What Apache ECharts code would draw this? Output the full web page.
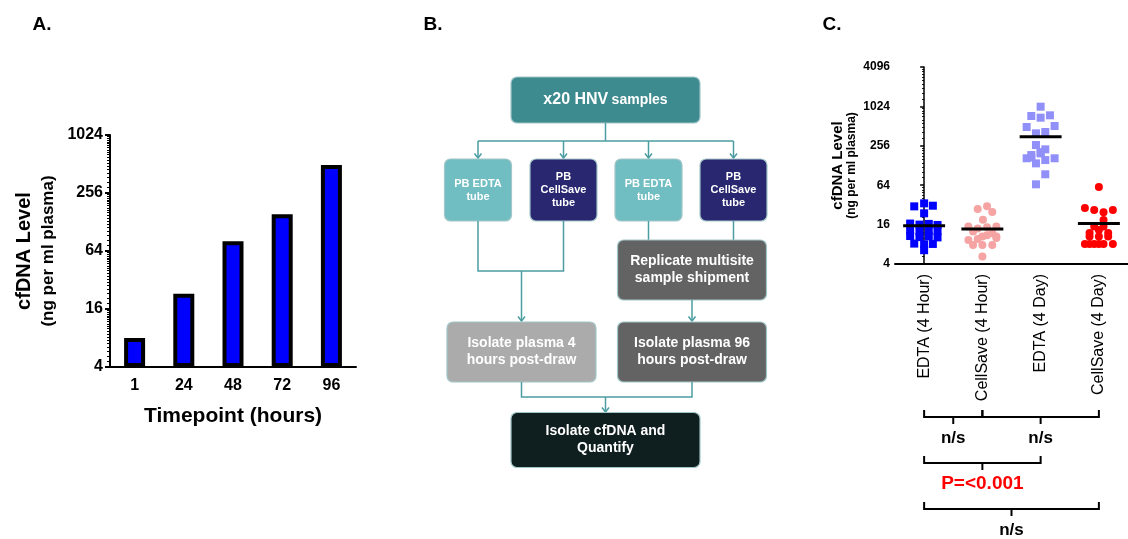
<!DOCTYPE html>
<html>
<head>
<meta charset="utf-8">
<script src="https://cdn.jsdelivr.net/npm/echarts@6/dist/echarts.min.js"></script>
<style>
  html, body { margin: 0; padding: 0; background: #fff; }
  #main { width: 1128px; height: 539px; }
</style>
</head>
<body>
<div id="main"></div>
<script>
// ---- Panel A: cfDNA level by timepoint ----
const timepoints = ['1', '24', '48', '72', '96'];
const meanLevel = [8, 23, 81, 154, 500];
const ticksA = [4, 16, 64, 256, 1024];

// ---- Panel C: per-sample cfDNA level by tube and delay ----
const groups = ['EDTA (4 Hour)', 'CellSave (4 Hour)', 'EDTA (4 Day)', 'CellSave (4 Day)'];
const ticksC = [4, 16, 64, 256, 1024, 4096];

const edta4h = [30.4, 33.8, 31.1, 23.8, 16.6, 16.0, 16.4, 15.8, 13.2, 12.6, 13.0, 12.8, 10.7, 10.3, 10.6, 10.2, 8.2, 8.0, 8.1, 6.5];
const edta4hSpread = [-0.17, 0, 0.15, 0, -0.24, -0.08, 0.08, 0.23, -0.24, -0.08, 0.08, 0.23, -0.24, -0.08, 0.08, 0.23, -0.17, 0, 0.15, 0];

const cellSave4h = [30.4, 27.7, 24.9, 19.0, 15.0, 14.0, 14.6, 15.0, 11.8, 12.6, 10.5, 10.5, 9.3, 11.0, 7.8, 7.8, 7.8, 9.6, 10.0, 5.2];
const cellSave4hSpread = [0.08, -0.08, 0.17, 0.01, -0.24, -0.08, 0.08, 0.24, 0.17, -0.16, 0.24, 0, -0.24, 0.08, -0.16, 0, 0.17, -0.08, 0.24, 0];

const edta4d = [1014, 730, 689, 748, 496, 514, 397, 416, 263, 226, 185, 196, 165, 165, 138, 155, 94, 66, 205, 170];
const edta4dSpread = [0, -0.16, 0, 0.16, -0.24, 0.24, -0.08, 0.08, -0.08, 0.08, -0.16, 0, -0.24, 0.24, -0.08, 0.08, 0.08, -0.08, 0, -0.16];

const cellSave4d = [60.1, 28.7, 26.7, 24.6, 26.7, 18.8, 14.9, 14.9, 13.2, 11.9, 11.9, 10.5, 10.5, 10.5, 8.1, 8.1, 8.1, 8.1, 8.1, 8.1];
const cellSave4dSpread = [0, -0.24, -0.08, 0.08, 0.24, 0.08, -0.08, 0.08, 0, -0.16, 0.16, -0.16, 0, 0.16, -0.24, -0.16, -0.08, 0, 0.08, 0.24];

const groupValues = [edta4h, cellSave4h, edta4d, cellSave4d];
const groupSpread = [edta4hSpread, cellSave4hSpread, edta4dSpread, cellSave4dSpread];
const groupColors = ['#0000ff', '#f5a3a3', '#9090f8', '#ff0000'];
const groupSymbols = ['rect', 'circle', 'rect', 'circle'];

// Pairwise comparisons shown under panel C
const comparisons = [
  { from: 0, to: 1, row: 0, text: 'n/s' },
  { from: 1, to: 3, row: 0, text: 'n/s' },
  { from: 0, to: 2, row: 1, text: 'P=<0.001' },
  { from: 0, to: 3, row: 2, text: 'n/s' }
];

// ---- Panel B: sample processing workflow ----
const flowTitle = ['x20 HNV', 'samples'];
const tubeLabels = ['PB EDTA\ntube', 'PB\nCellSave\ntube', 'PB EDTA\ntube', 'PB\nCellSave\ntube'];
const shipmentLabel = 'Replicate multisite\nsample shipment';
const isolate4hLabel = 'Isolate plasma 4\nhours post-draw';
const isolate96hLabel = 'Isolate plasma 96\nhours post-draw';
const quantifyLabel = 'Isolate cfDNA and\nQuantify';

const FONT = '"Liberation Sans", Arial, Helvetica, sans-serif';
const chart = echarts.init(document.getElementById('main'), null, { renderer: 'canvas' });

const mean = arr => arr.reduce((s, v) => s + v, 0) / arr.length;

const scatterSeries = groupValues.map((vals, g) => ({
  type: 'scatter',
  xAxisIndex: 2,
  yAxisIndex: 1,
  symbol: groupSymbols[g],
  symbolSize: 8,
  itemStyle: { color: groupColors[g], opacity: 1 },
  data: vals.map((v, k) => [g + groupSpread[g][k], v]),
  z: 3
}));

const meanSeries = groupValues.map((vals, g) => ({
  type: 'line',
  xAxisIndex: 2,
  yAxisIndex: 1,
  symbol: 'none',
  lineStyle: { color: '#000', width: 3 },
  data: [[g - 0.36, mean(vals)], [g + 0.36, mean(vals)]],
  z: 5
}));

const plainLabel = v => String(v);

chart.setOption({
  animation: false,
  textStyle: { fontFamily: FONT },
  grid: [
    { left: 110, top: 135, width: 246, height: 232 },
    { left: 895, top: 67, width: 241, height: 197 }
  ],
  xAxis: [
    {
      gridIndex: 0, type: 'category', data: timepoints,
      axisLine: { lineStyle: { color: '#000', width: 2 } },
      axisTick: { alignWithLabel: true, length: 6, lineStyle: { color: '#000', width: 2 } },
      axisLabel: { color: '#000', fontWeight: 'bold', fontSize: 16, margin: 11, fontFamily: FONT },
      name: 'Timepoint (hours)', nameLocation: 'middle', nameGap: 39,
      nameTextStyle: { color: '#000', fontWeight: 'bold', fontSize: 21, fontFamily: FONT }
    },
    {
      gridIndex: 1, type: 'category', data: groups,
      axisLine: { lineStyle: { color: '#000', width: 2 } },
      axisTick: { alignWithLabel: true, length: 5, lineStyle: { color: '#000', width: 2 } },
      axisLabel: { color: '#000', fontSize: 16, rotate: 90, margin: 10, interval: 0, fontFamily: FONT }
    },
    { gridIndex: 1, type: 'value', min: -0.5, max: 3.5, show: false }
  ],
  yAxis: [
    {
      gridIndex: 0, type: 'log', logBase: 2, min: ticksA[0], max: ticksA[ticksA.length - 1], interval: 2,
      startValue: ticksA[0],
      axisLine: { show: true, lineStyle: { color: '#000', width: 2 } },
      axisTick: { show: true, length: 5, lineStyle: { color: '#000', width: 2 } },
      minorTick: { show: true, splitNumber: 20, length: 3, lineStyle: { color: '#000', width: 1 } },
      splitLine: { show: false },
      axisLabel: { color: '#000', fontWeight: 'bold', fontSize: 16, margin: 7, formatter: plainLabel, fontFamily: FONT },
      name: '{t|cfDNA Level}\n{s|(ng per ml plasma)}',
      nameLocation: 'middle', nameRotate: 90, nameGap: 52,
      nameTextStyle: {
        rich: {
          t: { fontSize: 20, fontWeight: 'bold', color: '#000', lineHeight: 27, fontFamily: FONT },
          s: { fontSize: 17, fontWeight: 'bold', color: '#000', lineHeight: 20, fontFamily: FONT }
        }
      }
    },
    {
      gridIndex: 1, type: 'log', logBase: 2, min: ticksC[0], max: ticksC[ticksC.length - 1], interval: 2,
      axisLine: { show: true, lineStyle: { color: '#000', width: 1.5 } },
      axisTick: { show: true, length: 4, lineStyle: { color: '#000', width: 1.5 } },
      minorTick: { show: true, splitNumber: 10, length: 2, lineStyle: { color: '#000', width: 1 } },
      splitLine: { show: false },
      axisLabel: { color: '#000', fontWeight: 'bold', fontSize: 12, margin: 5, formatter: plainLabel, fontFamily: FONT },
      name: '{t|cfDNA Level}\n{s|(ng per ml plasma)}',
      nameLocation: 'middle', nameRotate: 90, nameGap: 36,
      nameTextStyle: {
        rich: {
          t: { fontSize: 15, fontWeight: 'bold', color: '#000', lineHeight: 14, fontFamily: FONT },
          s: { fontSize: 12, fontWeight: 'bold', color: '#000', lineHeight: 14, fontFamily: FONT }
        }
      }
    }
  ],
  series: [
    {
      type: 'bar', xAxisIndex: 0, yAxisIndex: 0, data: meanLevel, barWidth: 21,
      itemStyle: { color: '#0000ff', borderColor: '#000', borderWidth: 4 }
    },
    ...scatterSeries,
    ...meanSeries
  ]
});

// ---- Graphic layer: panel letters, workflow diagram, comparison brackets ----
const graphics = [];

[['A.', 42], ['B.', 433], ['C.', 832]].forEach(([t, x]) => {
  graphics.push({
    type: 'text', x: x, y: 25,
    style: { text: t, fill: '#000', font: 'bold 19px ' + FONT, align: 'center', verticalAlign: 'middle' }
  });
});

const LINK = '#4b9da2';
const BORDER = '#a3c6c8';

function flowBox(x, y, w, h, fill, text, fontSize, lineHeight) {
  graphics.push({
    type: 'rect', shape: { x: x, y: y, width: w, height: h, r: 6 },
    style: { fill: fill, stroke: BORDER, lineWidth: 1.2 }
  });
  graphics.push({
    type: 'text', x: x + w / 2, y: y + h / 2,
    style: {
      text: text, fill: '#fff', font: 'bold ' + fontSize + 'px ' + FONT,
      align: 'center', verticalAlign: 'middle', lineHeight: lineHeight
    }
  });
}
function link(points) {
  graphics.push({ type: 'polyline', shape: { points: points }, style: { stroke: LINK, lineWidth: 1.5, fill: null } });
}
function arrowHead(x, y) {
  graphics.push({
    type: 'polyline', shape: { points: [[x - 3.5, y - 4.5], [x, y], [x + 3.5, y - 4.5]] },
    style: { stroke: LINK, lineWidth: 1.5, fill: null }
  });
}

// top box
graphics.push({
  type: 'rect', shape: { x: 511, y: 77, width: 189, height: 46, r: 6 },
  style: { fill: '#3d8a8f', stroke: BORDER, lineWidth: 1.2 }
});
graphics.push({
  type: 'text', x: 605.5, y: 100,
  style: {
    text: '{a|' + flowTitle[0] + '} {b|' + flowTitle[1] + '}',
    align: 'center', verticalAlign: 'middle',
    rich: {
      a: { fill: '#fff', font: 'bold 16px ' + FONT },
      b: { fill: '#fff', font: 'bold 14px ' + FONT }
    }
  }
});

// split into four tubes
const tubeX = [444.5, 530, 615, 700];
const tubeFill = ['#70bdc2', '#282770', '#70bdc2', '#282770'];
link([[605.5, 123], [605.5, 141]]);
link([[478, 141], [733.5, 141]]);
tubeX.forEach((x, i) => {
  const cx = x + 33.5;
  link([[cx, 141], [cx, 158]]);
  arrowHead(cx, 158);
  flowBox(x, 159, 67, 62, tubeFill[i], tubeLabels[i], 11, 13);
});

// 4-hour branch
link([[478, 221], [478, 271], [563.5, 271], [563.5, 221]]);
link([[521.5, 271], [521.5, 321]]);
arrowHead(521.5, 321);
flowBox(447, 322, 149, 60, '#ababab', isolate4hLabel, 14, 17);

// 96-hour branch
link([[648.5, 221], [648.5, 240]]);
link([[733.5, 221], [733.5, 240]]);
flowBox(617.5, 240, 149, 60, '#636363', shipmentLabel, 14, 17);
link([[692, 300], [692, 321]]);
arrowHead(692, 321);
flowBox(617.5, 322, 149, 60, '#636363', isolate96hLabel, 14, 17);

// merge into quantification
link([[521.5, 382], [521.5, 397], [692, 397], [692, 382]]);
link([[605.5, 397], [605.5, 412]]);
arrowHead(605.5, 412);
flowBox(511, 412.5, 189, 55, '#0f1e1e', quantifyLabel, 14, 17);

// comparison brackets under panel C, placed at the group centres
const rowY = [417, 463, 509];
const groupX = i => chart.convertToPixel({ xAxisIndex: 2 }, i);
comparisons.forEach(c => {
  const x1 = groupX(c.from), x2 = groupX(c.to), xm = (x1 + x2) / 2, y = rowY[c.row];
  graphics.push({
    type: 'polyline', shape: { points: [[x1, y - 7], [x1, y], [x2, y], [x2, y - 7]] },
    style: { stroke: '#000', lineWidth: 2, fill: null }
  });
  graphics.push({
    type: 'polyline', shape: { points: [[xm, y], [xm, y + 7]] },
    style: { stroke: '#000', lineWidth: 2, fill: null }
  });
  const sig = c.text !== 'n/s';
  graphics.push({
    type: 'text', x: xm, y: y + 21,
    style: {
      text: c.text, fill: sig ? '#ff0000' : '#000',
      font: 'bold ' + (sig ? 19 : 17) + 'px ' + FONT, align: 'center', verticalAlign: 'middle'
    }
  });
});

chart.setOption({ graphic: { elements: graphics } });
</script>
</body>
</html>
